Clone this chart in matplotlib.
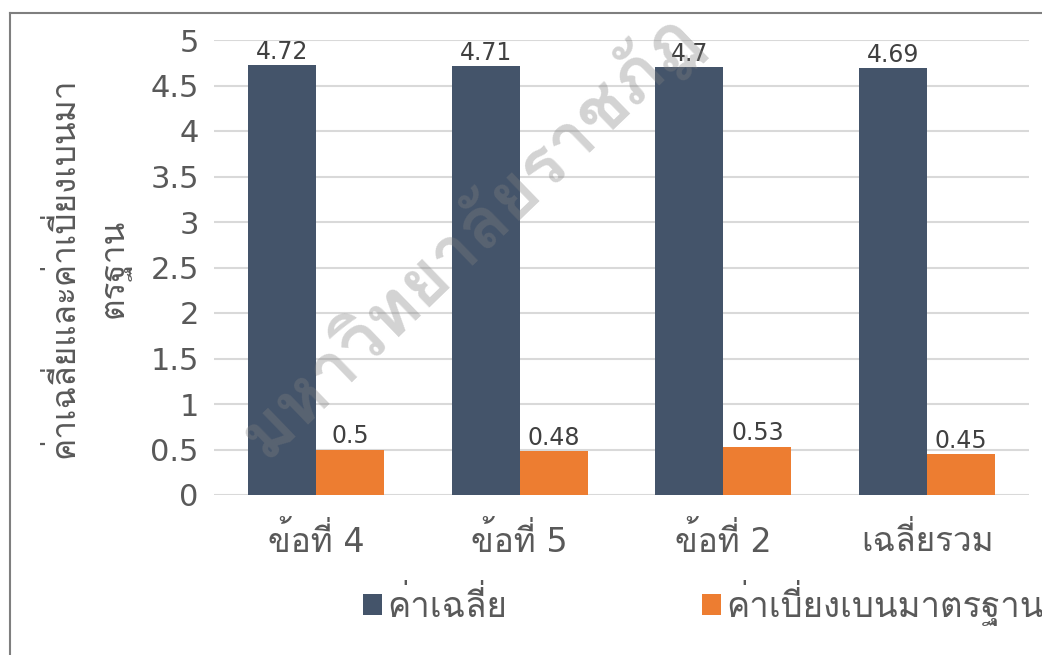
import matplotlib
matplotlib.use('Agg')
import numpy as np
import matplotlib.pyplot as plt
from matplotlib import font_manager as fm
from matplotlib.ft2font import FT2Font
from matplotlib.lines import Line2D

# data
categories = ['ข้อที่ 4', 'ข้อที่ 5', 'ข้อที่ 2', 'เฉลี่ยรวม']
mean_vals = [4.72, 4.71, 4.70, 4.69]
sd_vals = [0.5, 0.48, 0.53, 0.45]
series_names = ['ค่าเฉลี่ย', 'ค่าเบี่ยงเบนมาตรฐาน']
y_ticks = [0, 0.5, 1, 1.5, 2, 2.5, 3, 3.5, 4, 4.5, 5]
y_title = 'ค่าเฉลี่ยและค่าเบี่ยงเบนมา\nตรฐาน'
watermark = 'มหาวิทยาลัยราชภัฏ'

# find fonts that have Thai glyphs, looped (Tahoma-like) ones first
thai = []
for f in fm.fontManager.ttflist:
    try:
        if 0x0E04 in FT2Font(f.fname).get_charmap() and f.name not in thai:
            thai.append(f.name)
    except Exception:
        pass
pref = ['Loma', 'Tahoma', 'Noto Looped Thai', 'Noto Sans Thai Looped', 'Garuda', 'Norasi']
thai.sort(key=lambda n: pref.index(n) if n in pref else len(pref))
plt.rcParams['font.family'] = ['DejaVu Sans'] + thai

grey = '#595959'
dark = '#44546A'
orange = '#ED7D31'

fig = plt.figure(figsize=(10.42, 6.55), dpi=100)
ax = fig.add_axes([214 / 1042, 1 - 495 / 655, 815 / 1042, 455 / 655])

x = np.arange(len(categories))
w = 0.334
b1 = ax.bar(x - w / 2, mean_vals, w, color=dark, label=series_names[0], zorder=2)
b2 = ax.bar(x + w / 2, sd_vals, w, color=orange, label=series_names[1], zorder=2)
for bars, vals in [(b1, mean_vals), (b2, sd_vals)]:
    for r, v in zip(bars, vals):
        ax.annotate(f'{v:g}', (r.get_x() + r.get_width() / 2, v), xytext=(0, 1),
                    textcoords='offset points', ha='center', va='bottom',
                    fontsize=17, color='#404040')

ax.set_xlim(-0.5, len(categories) - 0.5)
ax.set_ylim(0, 5)
ax.set_yticks(y_ticks)
ax.set_yticklabels([f'{t:g}' for t in y_ticks])
ax.set_xticks(x)
ax.set_xticklabels(categories)
ax.tick_params(axis='y', length=0, pad=11, labelsize=22, labelcolor=grey)
ax.tick_params(axis='x', length=0, pad=20, labelsize=24, labelcolor=grey)
ax.grid(axis='y', color='#D9D9D9', linewidth=1.5, zorder=0)
ax.set_axisbelow(True)
for s in ax.spines.values():
    s.set_visible(False)

fig.text(88 / 1042, 1 - 268 / 655, y_title, rotation=90, ha='center', va='center',
         fontsize=24, color=grey, linespacing=1.6, multialignment='center')

fig.legend(handles=[b1, b2], labels=series_names, loc='center left',
           bbox_to_anchor=(363 / 1042, 1 - 603 / 655), ncol=2, frameon=False,
           fontsize=25, labelcolor=grey, handlelength=0.55, handleheight=0.55,
           handletextpad=0.15, columnspacing=5.6, borderpad=0, borderaxespad=0)

# watermark
fig.text(468 / 1042, 1 - 235 / 655, watermark, rotation=44, ha='center', va='center',
         fontsize=51, fontweight='bold', color='#808080', alpha=0.35, zorder=10)

# outer frame (top and left)
fig.add_artist(Line2D([10 / 1042, 1], [1 - 13 / 655, 1 - 13 / 655], color='#7F7F7F', lw=1.5))
fig.add_artist(Line2D([10 / 1042, 10 / 1042], [0, 1 - 13 / 655], color='#7F7F7F', lw=1.5))

fig.savefig('out.png', dpi=100)
